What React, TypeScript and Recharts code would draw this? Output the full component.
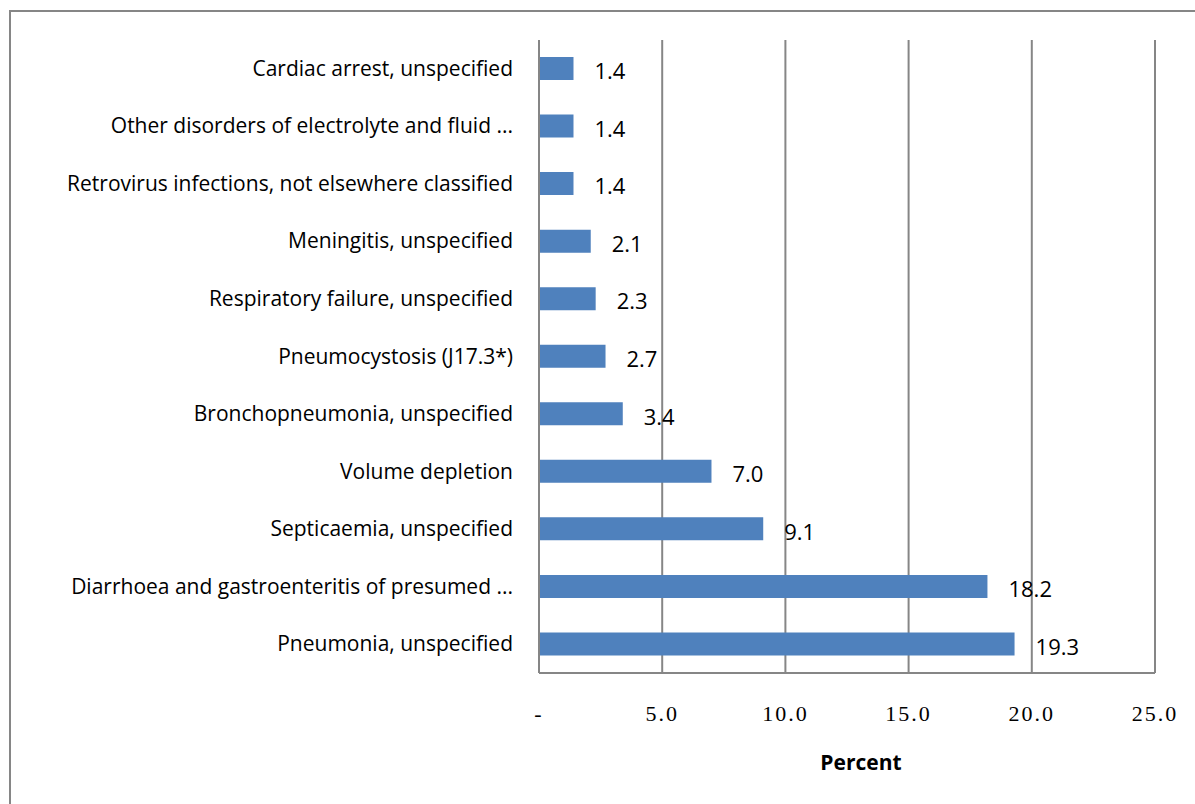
import { BarChart, Bar, XAxis, YAxis, CartesianGrid, LabelList } from 'recharts';

const causes = [
  'Cardiac arrest, unspecified',
  'Other disorders of electrolyte and fluid ...',
  'Retrovirus infections, not elsewhere classified',
  'Meningitis, unspecified',
  'Respiratory failure, unspecified',
  'Pneumocystosis (J17.3*)',
  'Bronchopneumonia, unspecified',
  'Volume depletion',
  'Septicaemia, unspecified',
  'Diarrhoea and gastroenteritis of presumed ...',
  'Pneumonia, unspecified',
];

const percents = [1.4, 1.4, 1.4, 2.1, 2.3, 2.7, 3.4, 7.0, 9.1, 18.2, 19.3];

const xTicks = [0, 5, 10, 15, 20, 25];
const xTickLabels = ['-', '5.0', '10.0', '15.0', '20.0', '25.0'];

const data = causes.map((cause, i) => ({ cause, percent: percents[i] }));

const GRID = '#868686';
const LABEL_FONT = '"Open Sans", Lato, sans-serif';

const CauseTick = ({ x, y, payload }: any) => (
  <text x={x - 18} y={y} dy={7} textAnchor="end" fontSize={21} fontFamily={LABEL_FONT} fill="#000">
    {payload.value}
  </text>
);

const PercentTick = ({ x, y, payload, index }: any) => (
  <text
    x={x}
    y={y}
    dy={40}
    textAnchor="middle"
    fontSize={22}
    letterSpacing={2}
    fontFamily='"Liberation Serif", serif'
    fill="#000"
  >
    {xTickLabels[index] ?? payload.value}
  </text>
);

export default function App() {
  return (
    <div style={{ position: 'fixed', left: 0, top: 0, width: 1195, height: 804, background: '#fff', overflow: 'hidden' }}>
      <div
        style={{
          position: 'absolute',
          left: 9,
          top: 10,
          width: 1300,
          height: 900,
          borderTop: `2px solid ${GRID}`,
          borderLeft: `2px solid ${GRID}`,
        }}
      />
      <div style={{ position: 'absolute', left: 0, top: 0 }}>
        <BarChart
          width={1195}
          height={804}
          data={data}
          layout="vertical"
          margin={{ top: 40, right: 40, left: 0, bottom: 31 }}
          barCategoryGap={17}
        >
          <CartesianGrid horizontal={false} vertical stroke={GRID} strokeWidth={2} />
          <XAxis
            type="number"
            domain={[0, 25]}
            ticks={xTicks}
            tick={<PercentTick />}
            tickLine={false}
            axisLine={{ stroke: GRID, strokeWidth: 2 }}
            height={100}
            interval={0}
            label={{
              value: 'Percent',
              position: 'insideBottom',
              offset: 3,
              dx: 14,
              style: { fontSize: 21, fontWeight: 700, fontFamily: LABEL_FONT, fill: '#000' },
            }}
          />
          <YAxis
            type="category"
            dataKey="cause"
            width={539}
            tick={<CauseTick />}
            tickLine={false}
            axisLine={{ stroke: GRID, strokeWidth: 2 }}
            interval={0}
          />
          <Bar dataKey="percent" fill="#4F81BD" barSize={23} isAnimationActive={false}>
            <LabelList
              dataKey="percent"
              position="right"
              offset={21}
              formatter={(v: any) => Number(v).toFixed(1)}
              style={{ fontSize: 22, fontFamily: LABEL_FONT, fill: '#000', transform: 'translateY(3px)' }}
            />
          </Bar>
        </BarChart>
      </div>
    </div>
  );
}
